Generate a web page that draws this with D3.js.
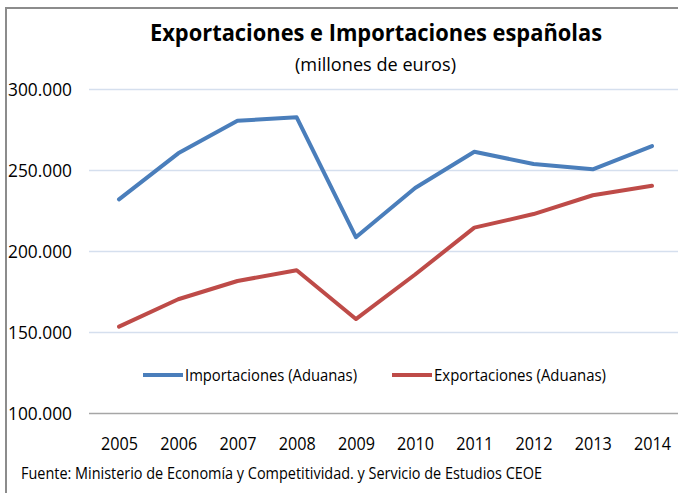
<!DOCTYPE html>
<html>
<head>
<meta charset="utf-8">
<script src="https://cdn.jsdelivr.net/npm/d3@7"></script>
<style>
  body { margin: 0; background: #fff; }
  text { font-family: "Open Sans", sans-serif; fill: #000; }
</style>
</head>
<body>
<div id="chart"></div>
<script>
var years = ["2005", "2006", "2007", "2008", "2009", "2010", "2011", "2012", "2013", "2014"];
var importaciones = [231900, 260300, 280400, 282500, 208500, 238900, 261300, 253700, 250400, 264800];
var exportaciones = [153300, 170200, 181500, 188100, 158000, 185500, 214400, 222800, 234400, 240300];
var yTicks = [100000, 150000, 200000, 250000, 300000];
var seriesNames = ["Importaciones (Aduanas)", "Exportaciones (Aduanas)"];
var seriesColors = ["#4a7ebb", "#be4b48"];

var W = 678, H = 493;
var svg = d3.select("#chart").append("svg")
  .attr("width", W).attr("height", H);

// frame (only left and top edges are visible)
svg.append("line").attr("x1", 6).attr("x2", 6).attr("y1", 8).attr("y2", H)
  .style("stroke", "#8c8c8c").style("stroke-width", 2);
svg.append("line").attr("x1", 5).attr("x2", W).attr("y1", 8).attr("y2", 8)
  .style("stroke", "#8c8c8c").style("stroke-width", 2);

var x = d3.scalePoint().domain(years).range([119, 652]);
var y = d3.scaleLinear().domain([100000, 300000]).range([413, 89]);

var fmt = function(d) { return d3.format(",")(d).replace(/,/g, "."); };

// squeeze Open Sans to the narrower widths of the original font
function fit(sel, w) {
  sel.attr("textLength", w).attr("lengthAdjust", "spacingAndGlyphs");
}

// grid
svg.selectAll(".grid")
  .data(yTicks)
  .enter().append("line")
  .attr("x1", 89).attr("x2", W)
  .attr("y1", function(d) { return y(d) + 0.5; })
  .attr("y2", function(d) { return y(d) + 0.5; })
  .style("stroke", function(d) { return d === 100000 ? "#a6a6a6" : "#d5dfee"; })
  .style("stroke-width", 1.5);

svg.selectAll(".ytick")
  .data(yTicks)
  .enter().append("text")
  .attr("x", 8)
  .attr("y", function(d) { return y(d) + 7; })
  .style("font-size", "18px")
  .text(fmt)
  .call(fit, 64);

var xAxis = d3.axisBottom(x).tickSize(0).tickPadding(0);
var gx = svg.append("g").attr("transform", "translate(0,450)").call(xAxis);
gx.select(".domain").remove();
gx.selectAll("text")
  .attr("y", 0).attr("dy", 0)
  .style("font-size", "19px")
  .style("font-family", "'Open Sans', sans-serif")
  .style("fill", "#000")
  .call(fit, 37);

var line = d3.line()
  .x(function(d, i) { return x(years[i]); })
  .y(function(d) { return y(d); });

[importaciones, exportaciones].forEach(function(s, i) {
  svg.append("path")
    .datum(s)
    .attr("d", line)
    .style("fill", "none")
    .style("stroke", seriesColors[i])
    .style("stroke-width", 4)
    .style("stroke-linejoin", "round")
    .style("stroke-linecap", "round");
});

// legend
var legX = [143, 392];
seriesNames.forEach(function(n, i) {
  svg.append("line")
    .attr("x1", legX[i]).attr("x2", legX[i] + 40)
    .attr("y1", 375).attr("y2", 375)
    .style("stroke", seriesColors[i]).style("stroke-width", 4);
  svg.append("text")
    .attr("x", legX[i] + 42).attr("y", 381)
    .style("font-size", "17px")
    .text(n)
    .call(fit, 172);
});

svg.append("text")
  .attr("x", 150).attr("y", 41)
  .style("font-size", "23px").style("font-weight", "bold")
  .text("Exportaciones e Importaciones españolas")
  .call(fit, 452);

svg.append("text")
  .attr("x", 295).attr("y", 71)
  .style("font-size", "19px")
  .text("(millones de euros)")
  .call(fit, 161);

svg.append("text")
  .attr("x", 21).attr("y", 479)
  .style("font-size", "16px")
  .text("Fuente: Ministerio de Economía y Competitividad. y Servicio de Estudios CEOE")
  .call(fit, 521);
</script>
</body>
</html>
